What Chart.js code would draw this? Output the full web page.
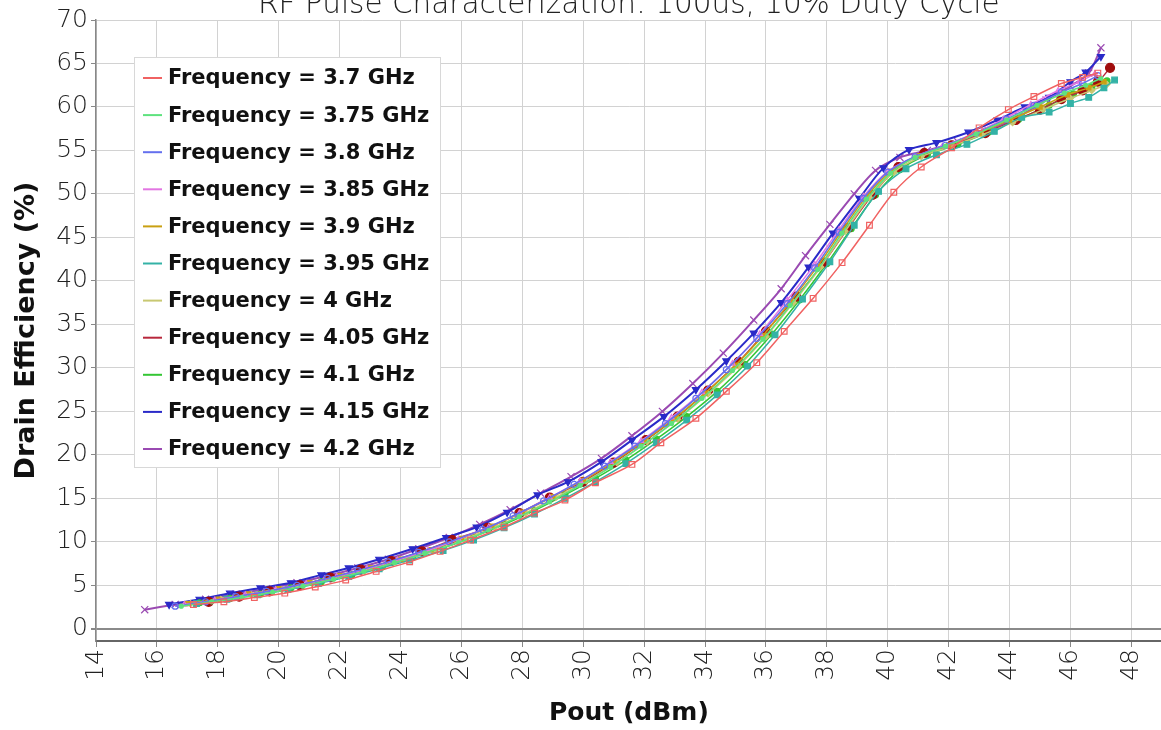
<!DOCTYPE html>
<html>
<head>
<meta charset="utf-8">
<script src="https://cdn.jsdelivr.net/npm/chart.js@4.4.1/dist/chart.umd.min.js"></script>
<style>
  html, body { margin: 0; padding: 0; background: #fff; }
  #wrap { width: 1161px; height: 730px; position: relative; overflow: hidden; }
  #chart { position: absolute; left: 0; top: 0; }
</style>
</head>
<body>
<div id="wrap"><canvas id="chart" width="1168" height="730"></canvas></div>
<script>
// ---- data ----
const chartTitle = 'RF Pulse Characterization: 100us, 10% Duty Cycle';
const xTicks = [14, 16, 18, 20, 22, 24, 26, 28, 30, 32, 34, 36, 38, 40, 42, 44, 46, 48];
const yTicks = [0, 5, 10, 15, 20, 25, 30, 35, 40, 45, 50, 55, 60, 65, 70];

const seriesLabels = [
  'Frequency = 3.7 GHz', 'Frequency = 3.75 GHz', 'Frequency = 3.8 GHz', 'Frequency = 3.85 GHz',
  'Frequency = 3.9 GHz', 'Frequency = 3.95 GHz', 'Frequency = 4 GHz', 'Frequency = 4.05 GHz',
  'Frequency = 4.1 GHz', 'Frequency = 4.15 GHz', 'Frequency = 4.2 GHz'
];

const pout370 = [17.2, 18.2, 19.2, 20.2, 21.2, 22.2, 23.2, 24.3, 25.3, 26.3, 27.4, 28.4, 29.4, 30.4, 31.6, 32.55, 33.7, 34.7, 35.7, 36.6, 37.55, 38.5, 39.4, 40.2, 41.1, 42.1, 43.0, 43.96, 44.8, 45.7, 46.4, 46.9];
const eff370 = [2.8, 3.1, 3.6, 4.1, 4.8, 5.6, 6.6, 7.7, 8.9, 10.2, 11.7, 13.3, 14.8, 16.8, 18.9, 21.4, 24.2, 27.3, 30.6, 34.2, 38.0, 42.1, 46.4, 50.2, 53.1, 55.3, 57.6, 59.7, 61.2, 62.7, 63.4, 63.9];

const pout375 = [16.8, 17.8, 18.8, 19.8, 20.8, 21.8, 22.8, 23.8, 24.8, 25.9, 26.9, 27.9, 28.9, 29.9, 30.9, 31.9, 32.9, 33.9, 34.9, 35.9, 36.8, 37.7, 38.5, 39.3, 40.1, 40.9, 41.9, 42.9, 43.9, 44.9, 45.8, 46.5, 47.0];
const eff375 = [2.6, 3.1, 3.6, 4.2, 4.9, 5.7, 6.6, 7.6, 8.7, 9.9, 11.3, 12.9, 14.6, 16.5, 18.6, 21.0, 23.6, 26.5, 29.7, 33.3, 37.2, 41.3, 45.5, 49.4, 52.4, 54.2, 55.5, 56.9, 58.5, 60.2, 61.6, 62.5, 63.3];

const pout380 = [16.6, 17.6, 18.6, 19.6, 20.6, 21.6, 22.6, 23.6, 24.6, 25.6, 26.7, 27.7, 28.7, 29.7, 30.7, 31.7, 32.7, 33.7, 34.7, 35.7, 36.7, 37.6, 38.4, 39.2, 40.0, 40.9, 41.9, 42.9, 43.9, 44.8, 45.7, 46.4, 46.9];
const eff380 = [2.6, 3.1, 3.7, 4.3, 5.0, 5.8, 6.7, 7.7, 8.8, 10.0, 11.4, 13.0, 14.7, 16.6, 18.7, 21.0, 23.6, 26.5, 29.8, 33.4, 37.4, 41.5, 45.6, 49.5, 52.5, 54.3, 55.6, 57.0, 58.6, 60.2, 61.7, 62.7, 63.6];

const pout385 = [16.9, 17.9, 18.9, 19.9, 20.9, 21.9, 22.9, 23.9, 24.9, 25.9, 26.9, 27.9, 28.9, 29.9, 30.9, 31.9, 32.9, 33.9, 34.9, 35.8, 36.7, 37.6, 38.4, 39.2, 40.0, 40.9, 41.8, 42.8, 43.8, 44.7, 45.6, 46.3, 46.8];
const eff385 = [2.8, 3.3, 3.9, 4.5, 5.2, 6.0, 6.9, 7.9, 9.0, 10.3, 11.7, 13.3, 15.1, 17.0, 19.2, 21.6, 24.3, 27.2, 30.5, 33.9, 37.8, 41.9, 45.9, 49.7, 52.6, 54.3, 55.5, 56.9, 58.6, 60.3, 61.9, 62.9, 63.8];

const pout390 = [17.0, 18.0, 19.0, 20.0, 21.0, 22.0, 23.0, 24.0, 25.0, 26.0, 27.0, 28.0, 29.0, 30.0, 31.0, 32.0, 33.0, 34.0, 35.0, 35.9, 36.8, 37.7, 38.5, 39.3, 40.1, 41.0, 42.0, 43.0, 44.0, 45.0, 45.9, 46.6, 47.1];
const eff390 = [2.9, 3.4, 4.0, 4.6, 5.3, 6.1, 7.0, 8.0, 9.1, 10.4, 11.8, 13.4, 15.2, 17.1, 19.2, 21.6, 24.2, 27.1, 30.3, 33.7, 37.6, 41.7, 45.8, 49.7, 52.6, 54.4, 55.6, 57.0, 58.5, 60.0, 61.4, 62.2, 62.9];

const pout395 = [17.3, 18.3, 19.3, 20.3, 21.3, 22.3, 23.3, 24.3, 25.4, 26.4, 27.4, 28.4, 29.4, 30.4, 31.4, 32.4, 33.4, 34.4, 35.4, 36.3, 37.2, 38.1, 38.9, 39.7, 40.6, 41.6, 42.6, 43.5, 44.4, 45.3, 46.0, 46.6, 47.1, 47.45];
const eff395 = [2.9, 3.4, 3.9, 4.5, 5.2, 6.0, 6.9, 7.9, 9.0, 10.2, 11.6, 13.2, 15.0, 16.9, 19.0, 21.4, 24.0, 26.9, 30.2, 33.8, 37.9, 42.2, 46.4, 50.3, 52.9, 54.5, 55.7, 57.2, 58.8, 59.4, 60.4, 61.1, 62.2, 63.1];

const pout400 = [17.1, 18.1, 19.1, 20.1, 21.1, 22.1, 23.1, 24.1, 25.1, 26.1, 27.1, 28.1, 29.1, 30.1, 31.1, 32.1, 33.1, 34.1, 35.1, 36.0, 36.9, 37.8, 38.6, 39.4, 40.2, 41.1, 42.1, 43.1, 44.1, 45.1, 46.0, 46.7, 47.2];
const eff400 = [2.9, 3.4, 3.9, 4.5, 5.2, 6.0, 6.9, 7.9, 9.0, 10.3, 11.7, 13.3, 15.1, 17.0, 19.1, 21.5, 24.1, 27.0, 30.2, 33.6, 37.5, 41.6, 45.7, 49.6, 52.5, 54.3, 55.5, 56.8, 58.2, 59.7, 61.0, 61.9, 62.6];

const pout405 = [17.7, 18.7, 19.7, 20.7, 21.7, 22.7, 23.7, 24.7, 25.7, 26.86, 27.9, 28.9, 29.99, 31.0, 32.06, 33.1, 34.1, 35.1, 36.0, 37.0, 37.9, 38.7, 39.5, 40.35, 41.2, 42.1, 43.2, 44.2, 45.0, 45.7, 46.4, 46.9, 47.3];
const eff405 = [3.1, 3.7, 4.3, 5.0, 5.9, 6.8, 7.8, 8.9, 10.2, 11.6, 13.3, 15.1, 16.9, 19.1, 21.7, 24.4, 27.4, 30.7, 34.2, 38.2, 42.1, 46.1, 49.9, 53.1, 54.7, 55.6, 57.0, 58.5, 59.7, 60.9, 61.9, 62.9, 64.5];

const pout410 = [17.4, 18.4, 19.4, 20.4, 21.4, 22.4, 23.4, 24.4, 25.4, 26.4, 27.4, 28.4, 29.4, 30.4, 31.4, 32.4, 33.4, 34.4, 35.3, 36.2, 37.1, 38.0, 38.8, 39.6, 40.4, 41.3, 42.3, 43.3, 44.3, 45.3, 46.1, 46.7, 47.2];
const eff410 = [3.0, 3.5, 4.0, 4.7, 5.4, 6.2, 7.1, 8.2, 9.3, 10.6, 12.0, 13.6, 15.4, 17.3, 19.4, 21.8, 24.4, 27.3, 30.4, 33.9, 37.8, 42.0, 46.0, 49.9, 52.8, 54.5, 55.7, 57.1, 58.6, 60.2, 61.5, 62.3, 63.0];

const pout415 = [16.4, 17.4, 18.4, 19.4, 20.4, 21.4, 22.3, 23.3, 24.4, 25.5, 26.5, 27.5, 28.5, 29.5, 30.6, 31.6, 32.65, 33.7, 34.7, 35.6, 36.5, 37.4, 38.2, 39.07, 39.86, 40.7, 41.6, 42.65, 43.6, 44.5, 45.3, 46.0, 46.5, 47.0];
const eff415 = [2.8, 3.4, 4.1, 4.7, 5.3, 6.2, 7.0, 8.0, 9.2, 10.5, 11.7, 13.4, 15.4, 16.9, 19.2, 21.7, 24.4, 27.5, 30.8, 34.0, 37.5, 41.6, 45.5, 49.5, 53.0, 55.1, 55.9, 57.1, 58.5, 60.0, 61.1, 62.9, 64.0, 65.8];

const pout420 = [15.6, 16.6, 17.6, 18.6, 19.6, 20.6, 21.6, 22.6, 23.6, 24.6, 25.6, 26.6, 27.6, 28.6, 29.6, 30.6, 31.6, 32.6, 33.6, 34.6, 35.6, 36.5, 37.3, 38.1, 38.9, 39.6, 40.4, 41.3, 42.3, 43.3, 44.3, 45.2, 46.0, 46.6, 47.0];
const eff420 = [2.2, 2.8, 3.4, 4.0, 4.6, 5.3, 6.1, 7.0, 8.0, 9.2, 10.5, 12.0, 13.7, 15.6, 17.5, 19.6, 22.2, 25.0, 28.2, 31.7, 35.5, 39.1, 42.9, 46.5, 50.0, 52.7, 54.2, 55.0, 56.0, 57.3, 58.9, 60.8, 62.4, 63.9, 66.8];

const poutSeries = [pout370, pout375, pout380, pout385, pout390, pout395, pout400, pout405, pout410, pout415, pout420];
const effSeries = [eff370, eff375, eff380, eff385, eff390, eff395, eff400, eff405, eff410, eff415, eff420];

// ---- styling ----
const lineColors = ['#f06262', '#5ee27e', '#6470ee', '#e276e2', '#c9a012', '#34b2a6', '#c8c872', '#b8283c', '#34c634', '#2a2ac8', '#9a4ab2'];
const pointColors = ['#f06262', '#5ee27e', '#6470ee', '#e276e2', '#c9a012', '#34b2a6', '#c8c872', '#a00c0c', '#34c634', '#2a2ac8', '#9a4ab2'];
const pointShapes = ['rect', 'circle', 'circle', 'triangle', 'rect', 'rect', 'rectRot', 'circle', 'circle', 'triangle', 'crossRot'];
const pointSizes = [4, 2, 3, 3, 3, 4, 3, 4.5, 3, 4, 5];
const pointFilled = [false, true, false, false, true, true, true, true, true, true, false];

const tickFont = { family: 'DejaVu Sans', size: 25, weight: 200 };
const boldFont = { family: 'DejaVu Sans', size: 25, weight: 'bold' };
const yTitleFont = { family: 'DejaVu Sans', size: 27, weight: 'bold' };

const datasets = seriesLabels.map((label, i) => ({
  label,
  data: poutSeries[i].map((x, k) => ({ x, y: effSeries[i][k] })),
  borderColor: lineColors[i],
  backgroundColor: lineColors[i],
  borderWidth: i >= 9 ? 2 : 1.5,
  pointStyle: pointShapes[i],
  pointRadius: pointSizes[i],
  pointRotation: i === 9 ? 180 : 0,
  pointBorderColor: pointColors[i],
  pointBackgroundColor: pointFilled[i] ? pointColors[i] : 'rgba(255,255,255,0)',
  pointBorderWidth: 1.2,
  tension: 0.3,
  fill: false,
}));

// title sits partly above the top edge, as in the source image
const titlePlugin = {
  id: 'clippedTitle',
  afterDraw(chart) {
    const { ctx, chartArea } = chart;
    ctx.save();
    ctx.font = '200 29.5px "DejaVu Sans"';
    ctx.fillStyle = '#222';
    ctx.textAlign = 'center';
    ctx.textBaseline = 'alphabetic';
    ctx.fillText(chartTitle, (chartArea.left + chartArea.right) / 2, 13);
    ctx.restore();
  }
};

// legend box drawn inside the plot area
const insideLegend = {
  id: 'insideLegend',
  afterDraw(chart) {
    const { ctx } = chart;
    const left = 134, top = 57, width = 306, height = 410;
    ctx.save();
    ctx.fillStyle = '#fff';
    ctx.strokeStyle = '#d8d8d8';
    ctx.lineWidth = 1;
    ctx.fillRect(left, top, width, height);
    ctx.strokeRect(left + 0.5, top + 0.5, width, height);
    ctx.font = 'bold 21px "DejaVu Sans"';
    ctx.textBaseline = 'middle';
    ctx.fillStyle = '#111';
    chart.data.datasets.forEach((ds, i) => {
      const y = top + 21 + i * 37.1;
      ctx.strokeStyle = ds.borderColor;
      ctx.lineWidth = 2;
      ctx.beginPath();
      ctx.moveTo(left + 9, y);
      ctx.lineTo(left + 28, y);
      ctx.stroke();
      ctx.fillText(ds.label, left + 34, y + 1);
    });
    ctx.restore();
  }
};

new Chart(document.getElementById('chart'), {
  type: 'line',
  data: { datasets },
  options: {
    responsive: false,
    animation: false,
    layout: { padding: { top: 20, right: 1, left: 0, bottom: 0 } },
    plugins: {
      legend: { display: false },
      title: { display: false },
      tooltip: { enabled: false },
    },
    scales: {
      x: {
        type: 'linear',
        min: 14,
        max: 49,
        afterBuildTicks: (scale) => { scale.ticks = xTicks.map(v => ({ value: v })); },
        afterFit: (scale) => { scale.height = 89; },
        ticks: { font: tickFont, color: '#222', maxRotation: 90, minRotation: 90, padding: 2 },
        grid: { color: '#d2d2d2', tickLength: 6, tickColor: '#888' },
        border: { color: '#666', width: 2 },
        title: { display: true, text: 'Pout (dBm)', font: boldFont, color: '#111', padding: { top: 0, bottom: 2 } },
      },
      y: {
        type: 'linear',
        min: -1.4,
        max: 70,
        afterBuildTicks: (scale) => { scale.ticks = yTicks.map(v => ({ value: v })); },
        afterFit: (scale) => { scale.width = 96; },
        ticks: { font: tickFont, color: '#222', padding: 3 },
        grid: {
          color: (c) => (c.tick && c.tick.value === 0 ? '#8a8a8a' : '#d2d2d2'),
          lineWidth: (c) => (c.tick && c.tick.value === 0 ? 2 : 1),
          tickLength: 5,
          tickColor: '#888',
        },
        border: { color: '#888', width: 1.5 },
        title: { display: true, text: 'Drain Efficiency (%)', font: yTitleFont, color: '#111', padding: { top: 11, bottom: 0 } },
      },
    },
  },
  plugins: [titlePlugin, insideLegend],
});
</script>
</body>
</html>
